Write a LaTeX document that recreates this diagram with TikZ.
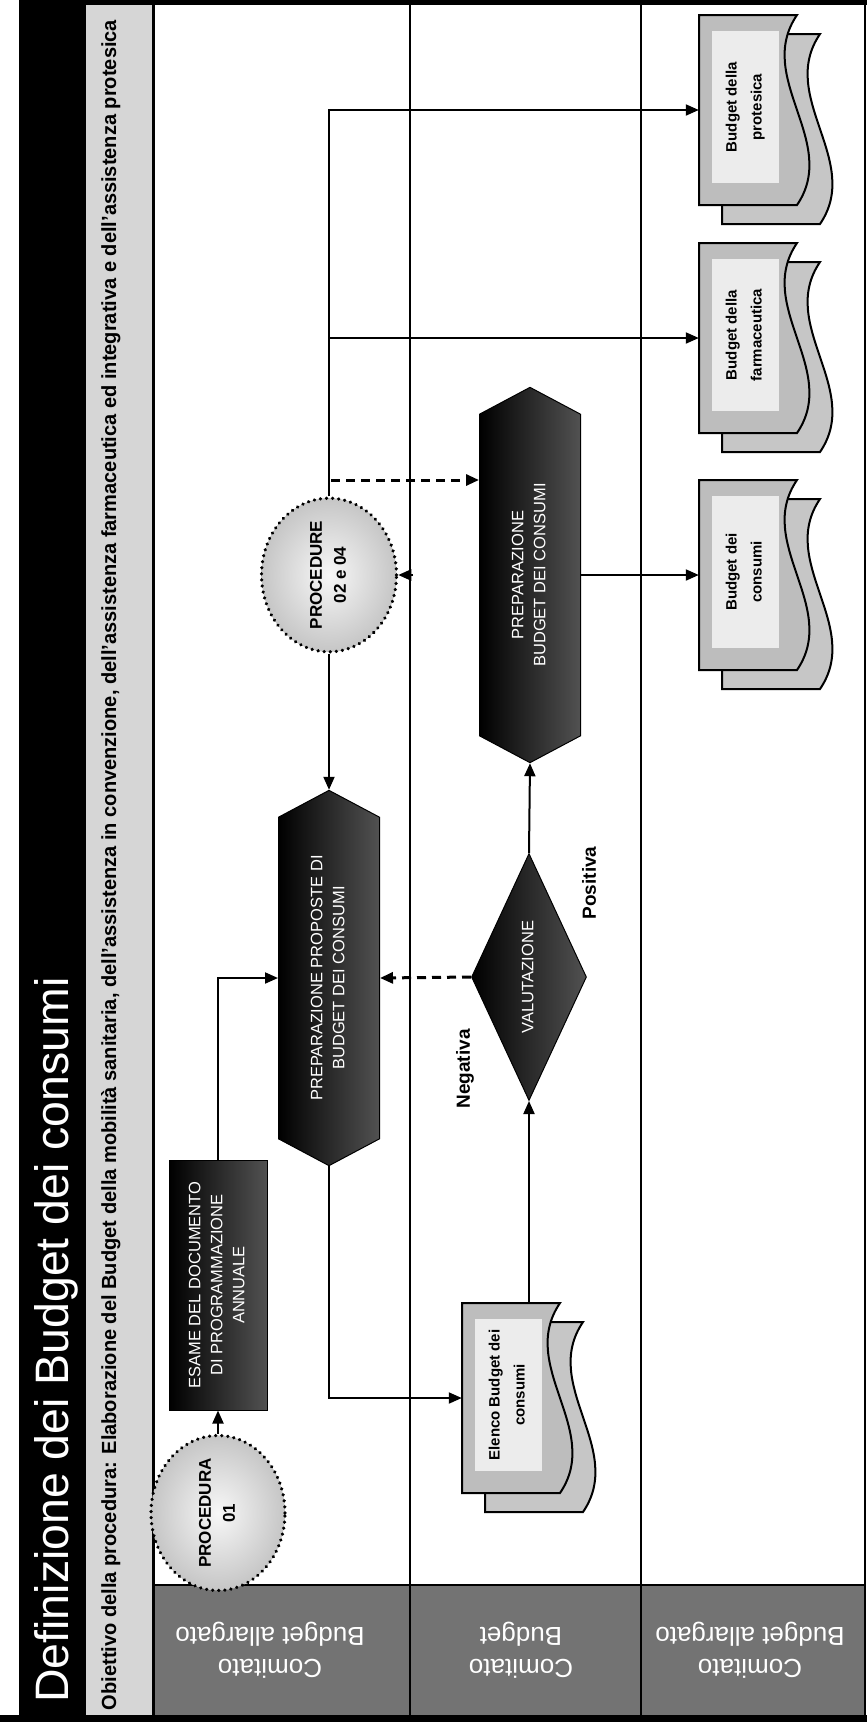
\documentclass[tikz,border=0pt]{standalone}
\usepackage{fontspec}
\setmainfont{Liberation Sans}
\usetikzlibrary{shapes.geometric,shapes.symbols,arrows.meta,calc}

\newcommand{\pxsize}[2]{\fontsize{#1pt}{#2pt}\selectfont}
\newcommand{\vtext}[1]{\rotatebox{90}{\begin{tabular}{@{}c@{}}#1\end{tabular}}}

% multi-page document symbol: back sheet, front sheet with wavy edge, light panel, text
\newcommand{\docsheet}[4]{%
  \filldraw[docback] (#2+23,#3+19) -- (#2+121,#3+19)
     .. controls (#2+78,#3+82) and (#2+164,#3+146) .. (#2+121,#3+209)
     -- (#2+23,#3+209) -- cycle;
  \filldraw[docfront] (#2,#3) -- (#2+98,#3)
     .. controls (#2+55,#3+63) and (#2+141,#3+127) .. (#2+98,#3+190)
     -- (#2,#3+190) -- cycle;
  \fill[gray!15] (#2+13,#3+16) rectangle (#2+80,#3+168);
  \node[docnode] (#1) at (#2+49,#3+95) {};
  \node[doctext] (#1-t) at (#2+45,#3+92) {\vtext{#4}};
}

\begin{document}
\begin{tikzpicture}[x=1pt,y=-1pt,
  conn/.style={line width=2pt,-{Triangle[length=13pt,width=11pt]}},
  dashconn/.style={conn,line width=3pt,dash pattern=on 9pt off 6pt},
  laneline/.style={line width=2.5pt},
  blackbox/.style={draw=black,line width=1pt,left color=black,middle color=black,
    right color=black!68,text=white,inner sep=0pt,font=\pxsize{16.5}{22}},
  hexnode/.style={blackbox,signal,signal to=north and south,signal pointer angle=124,
    minimum width=101pt,minimum height=345pt},
  procnode/.style={ellipse,shade,inner color=gray!6,outer color=gray!45,draw=black,
    line width=3.5pt,dash pattern=on 0.1pt off 6pt,line cap=round,inner sep=0pt,
    font=\bfseries\pxsize{17}{24}},
  docback/.style={fill=gray!45,draw=black,line width=2pt},
  docfront/.style={fill=gray!52,draw=black,line width=2pt},
  docnode/.style={rectangle,minimum width=98pt,minimum height=190pt,inner sep=0pt},
  doctext/.style={font=\bfseries\pxsize{15}{25},inner sep=0pt},
  lanelabel/.style={rotate=180,text=white,align=center,font=\pxsize{26}{32}},
  branchlabel/.style={rotate=90,font=\bfseries\pxsize{19}{22},inner sep=0pt}]

\useasboundingbox (0,0) rectangle (867,1722);
\fill[white] (0,0) rectangle (867,1722);

% page frame, title strip and objective strip
\fill[black] (19,0) rectangle (867,5);
\fill[black] (0,1715) rectangle (867,1722);
\fill[black] (19,5) rectangle (86,1715);
\fill[gray!32] (86,5) rectangle (153,1715);
\fill[black!55] (153,1585) rectangle (865,1715);
\draw[line width=3pt] (153,5) -- (153,1715);
\draw[laneline] (410,5) -- (410,1715);
\draw[laneline] (641,5) -- (641,1715);
\draw[line width=2pt] (865,5) -- (865,1715);
\draw[line width=1.5pt] (153,1585) -- (865,1585);

\node[rotate=90,anchor=base,text=white,inner sep=0pt] (title) at (68,1340)
  {\resizebox{725pt}{34pt}{Definizione dei Budget dei consumi}};
\node[rotate=90,anchor=base,inner sep=0pt] (objective) at (116,865)
  {\resizebox{1690pt}{15pt}{\bfseries Obiettivo della procedura: Elaborazione del Budget della mobilità sanitaria, dell'assistenza in convenzione, dell'assistenza farmaceutica ed integrativa e dell'assistenza protesica}};

% swimlane headers
\node[lanelabel] (lane1) at (270,1650) {Comitato\\Budget allargato};
\node[lanelabel] (lane2) at (521,1650) {Comitato\\Budget};
\node[lanelabel] (lane3) at (750,1650) {Comitato\\Budget allargato};

% process elements
\node[procnode,minimum width=134pt,minimum height=126pt] (proc1) at (218,1513)
  {\vtext{PROCEDURA\\01}};
\node[blackbox,minimum width=98pt,minimum height=250pt] (esame) at (218,1285)
  {\vtext{ESAME DEL DOCUMENTO\\DI PROGRAMMAZIONE\\ANNUALE}};
\node[hexnode] (propose) at (329,978)
  {\vtext{PREPARAZIONE PROPOSTE DI\\BUDGET DEI CONSUMI}};
\node[procnode,minimum width=135pt,minimum height=130pt] (proc2) at (329,575)
  {\vtext{PROCEDURE\\02 e 04}};
\node[hexnode] (prepare) at (530,575)
  {\vtext{PREPARAZIONE\\BUDGET DEI CONSUMI}};
\node[blackbox,diamond,aspect=0.47,minimum width=115pt,minimum height=247pt] (valuta) at (529,977)
  {\vtext{VALUTAZIONE}};

% documents
\docsheet{elenco}{462}{1303}{Elenco Budget dei\\consumi}
\docsheet{consumi}{699}{480}{Budget dei\\consumi}
\docsheet{farma}{699}{243}{Budget della\\farmaceutica}
\docsheet{protesica}{699}{15}{Budget della\\protesica}

% branch labels
\node[branchlabel] (neg) at (465,1069) {Negativa};
\node[branchlabel] (pos) at (589,883) {Positiva};

% connectors
\draw[conn] (proc1.north) -- (esame.south);
\draw[conn] (esame.north) |- (propose.west);
\draw[conn] (proc2.south) -- (propose.north);
\draw[conn] (propose.south) |- (elenco.west);
\draw[conn] (valuta.south |- elenco.north) -- (valuta.south);
\draw[dashconn] (valuta.west) -- (propose.east);
\draw[conn] (valuta.north) -- (prepare.south);
\draw[conn] (prepare.east) -- (prepare.east -| consumi.west);
\draw[conn] (proc2.north) |- (protesica.west);
\draw[conn] (proc2.north |- farma.west) -- (farma.west);
\coordinate (dashstart) at (331,480);
\draw[dashconn] (dashstart) -- (dashstart -| prepare.west);
\coordinate (lanemark) at (413,575);
\draw[conn] (lanemark) -- (proc2.east);

\end{tikzpicture}
\end{document}
